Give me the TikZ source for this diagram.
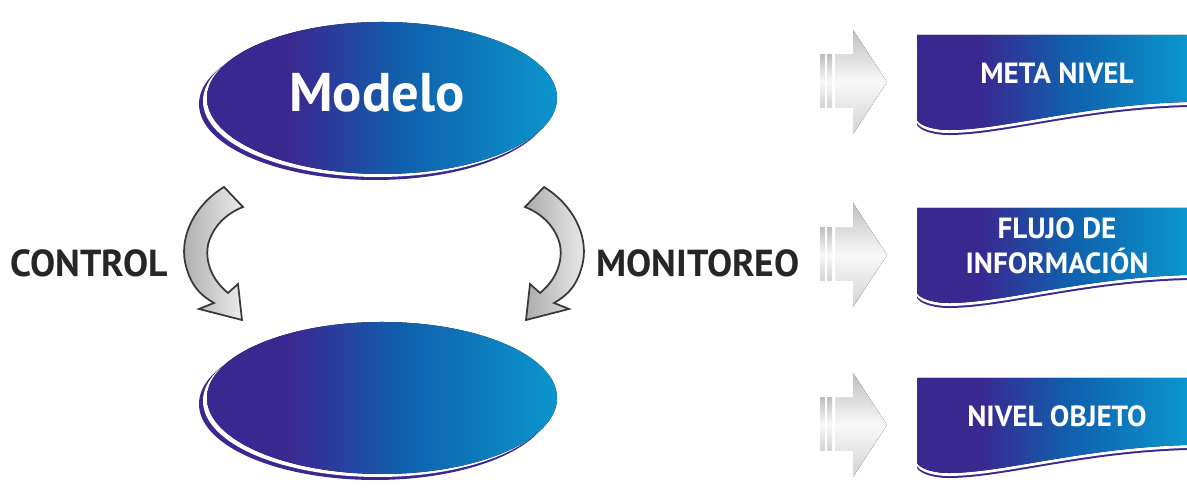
\documentclass[tikz,border=0pt]{standalone}
\usepackage{fontspec}
\setmainfont{PT Sans}
\usetikzlibrary{positioning}
\definecolor{morado}{HTML}{3A2891}
\definecolor{azul}{HTML}{1060AC}
\definecolor{cian}{HTML}{0A95CD}
\pgfdeclarehorizontalshading{degradado}{100bp}{color(0bp)=(morado); color(25bp)=(morado); color(37bp)=(morado); color(53bp)=(azul); color(75bp)=(cian); color(100bp)=(cian)}
\newcommand{\banda}[1]{(917,#1) -- (1187,#1) -- (1187,#1+67) .. controls (1080,#1+70) and (1000,#1+96) .. (945,#1+95) .. controls (930,#1+94) and (920,#1+90) .. (917,#1+85) -- cycle}

\begin{document}
\begin{tikzpicture}[x=0.01cm,y=-0.01cm]
  \tikzstyle{every node}=[text=white,font=\bfseries]
  \tikzstyle{borde}=[fill=morado]
  \tikzstyle{hueco}=[fill=white]
  \tikzstyle{fondo}=[shading=degradado]
  \tikzstyle{flecha}=[draw=gray!45!black,line width=0.5pt,left color=gray!65,right color=gray!15]
  \tikzstyle{bloque}=[top color=gray!50,bottom color=gray!35,middle color=gray!5]
  \tikzstyle{etiqueta}=[text=black!85,font=\bfseries\fontsize{10.7}{13}\selectfont]
  \tikzstyle{nivel}=[font=\bfseries\fontsize{8.3}{10}\selectfont,align=center]

  \useasboundingbox (0,0) rectangle (1187,489);

  % elipses
  \foreach \cy in {98,398} {
    \fill[borde] (375,\cy+6) ellipse (176 and 76);
    \fill[hueco] (378,\cy+3) ellipse (175 and 76);
    \fill[fondo] (382,\cy) ellipse (175 and 76);
  }
  \node[font=\bfseries\fontsize{15.5}{18}\selectfont] (modelo) at (377,93) {Modelo};
  \node (objeto) at (382,398) {};

  % flechas curvas
  \foreach \s/\d in {1/0,-1/768} {
    \begin{scope}[shift={(\d,0)},xscale=\s]
      \path[flecha] (224,187) .. controls (195,205) and (180,235) .. (185,262)
        .. controls (190,285) and (200,295) .. (214,303) -- (199,309) -- (242,320)
        -- (238,284) -- (228,293) .. controls (212,280) and (205,262) .. (208,245)
        .. controls (212,228) and (225,214) .. (243,207) -- cycle;
    \end{scope}
  }
  \node[etiqueta] (control) at (89,263) {CONTROL};
  \node[etiqueta] (monitoreo) at (698,263) {MONITOREO};

  % niveles
  \foreach \y/\n/\t in {35/meta/{META NIVEL},208/flujo/{FLUJO DE\\INFORMACIÓN},378/nobj/{NIVEL OBJETO}} {
    \fill[bloque] (820,\y+20) rectangle (825,\y+73);
    \fill[bloque] (827,\y+20) rectangle (832,\y+73);
    \fill[bloque] (835,\y+20) -- (853,\y+20) -- (853,\y-5) -- (887,\y+47)
      -- (853,\y+99) -- (853,\y+73) -- (835,\y+73) -- cycle;
    \fill[borde] \banda{\y+5};
    \fill[hueco] \banda{\y+3};
    \fill[fondo] \banda{\y};
    \node[nivel] (\n) at (1057,\y+38) {\t};
  }
\end{tikzpicture}
\end{document}
